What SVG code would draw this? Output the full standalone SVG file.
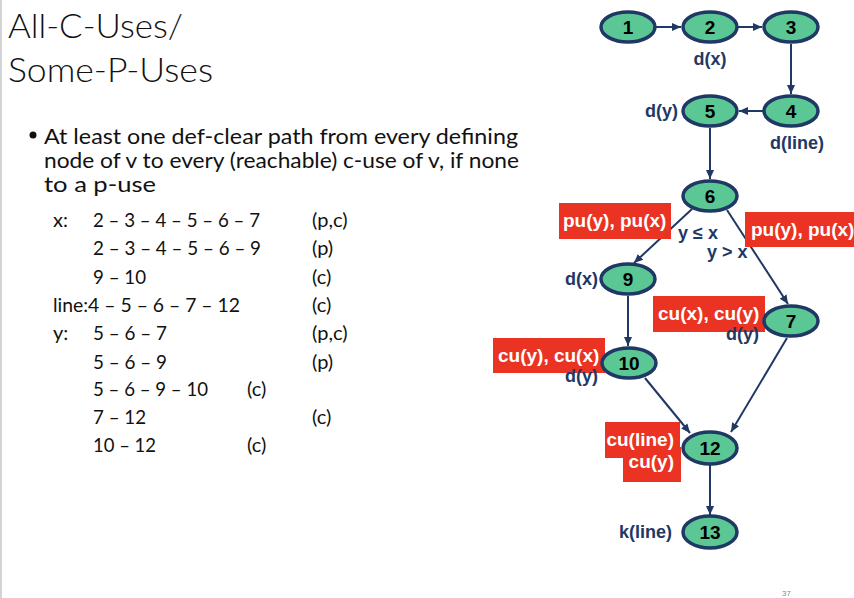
<svg xmlns="http://www.w3.org/2000/svg" width="854" height="598" viewBox="0 0 854 598">
  <style>
    .title { font-family: Lato, "Liberation Sans", Arial, sans-serif; font-weight: 300; font-size: 34px; fill: #111; }
    .body { font-family: Lato, "Liberation Sans", Arial, sans-serif; font-size: 21px; fill: #111; }
    .tbl { font-family: Lato, "Liberation Sans", Arial, sans-serif; font-size: 20px; fill: #111; }
    .node ellipse { fill: #5BC794; stroke: #1F3864; stroke-width: 3.5; }
    .node text { font-family: "Liberation Sans", Arial, sans-serif; font-weight: bold; font-size: 19px; fill: #000; text-anchor: middle; }
    .lbl { font-family: "Liberation Sans", Arial, sans-serif; font-weight: bold; font-size: 18px; fill: #1F3864; }
    .tag rect { fill: #EA3323; }
    .tag text { font-family: "Liberation Sans", Arial, sans-serif; font-weight: bold; font-size: 19px; fill: #fff; }
    .edge { stroke: #1F3864; stroke-width: 2; fill: none; marker-end: url(#arrow); }
  </style>
  <defs>
    <marker id="arrow" markerUnits="userSpaceOnUse" markerWidth="10" markerHeight="10" refX="9" refY="5" orient="auto">
      <path d="M0,1 L9,5 L0,9 Z" fill="#1F3864"/>
    </marker>
  </defs>

  <rect width="854" height="598" fill="#fff"/>
  <line x1="1" y1="0" x2="1" y2="598" stroke="#d4d4d4" stroke-width="2"/>

  <!-- Title -->
  <text class="title" x="8" y="38" textLength="175" lengthAdjust="spacingAndGlyphs">All-C-Uses/</text>
  <text class="title" x="8" y="82" textLength="205" lengthAdjust="spacingAndGlyphs">Some-P-Uses</text>

  <!-- Bullet text -->
  <circle cx="33" cy="135" r="3.5" fill="#111"/>
  <text class="body" x="44" y="144" textLength="474" lengthAdjust="spacingAndGlyphs">At least one def-clear path from every defining</text>
  <text class="body" x="44" y="168" textLength="475" lengthAdjust="spacingAndGlyphs">node of v to every (reachable) c-use of v, if none</text>
  <text class="body" x="44" y="192" textLength="112" lengthAdjust="spacingAndGlyphs">to a p-use</text>

  <!-- Def-use path table -->
  <g class="tbl">
    <text x="53" y="227">x:</text>
    <text x="93" y="227" textLength="167" lengthAdjust="spacingAndGlyphs">2 – 3 – 4 – 5 – 6 – 7</text>
    <text x="312" y="227">(p,c)</text>
    <text x="93" y="255" textLength="168" lengthAdjust="spacingAndGlyphs">2 – 3 – 4 – 5 – 6 – 9</text>
    <text x="312" y="255">(p)</text>
    <text x="93" y="284" textLength="53" lengthAdjust="spacingAndGlyphs">9 – 10</text>
    <text x="312" y="284">(c)</text>
    <text x="53" y="312" textLength="187" lengthAdjust="spacingAndGlyphs">line:4 – 5 – 6 – 7 – 12</text>
    <text x="312" y="312">(c)</text>
    <text x="53" y="340">y:</text>
    <text x="93" y="340" textLength="74" lengthAdjust="spacingAndGlyphs">5 – 6 – 7</text>
    <text x="312" y="340">(p,c)</text>
    <text x="93" y="369" textLength="74" lengthAdjust="spacingAndGlyphs">5 – 6 – 9</text>
    <text x="312" y="369">(p)</text>
    <text x="93" y="396" textLength="115" lengthAdjust="spacingAndGlyphs">5 – 6 – 9 – 10</text>
    <text x="247" y="396">(c)</text>
    <text x="93" y="424" textLength="53" lengthAdjust="spacingAndGlyphs">7 – 12</text>
    <text x="312" y="424">(c)</text>
    <text x="93" y="452" textLength="63" lengthAdjust="spacingAndGlyphs">10 – 12</text>
    <text x="247" y="452">(c)</text>
  </g>

  <!-- Connectors -->
  <g id="edges">
    <line class="edge" x1="656" y1="27" x2="681" y2="27"/>
    <line class="edge" x1="738" y1="27" x2="762" y2="27"/>
    <line class="edge" x1="791" y1="44" x2="791" y2="94"/>
    <line class="edge" x1="763" y1="111" x2="739" y2="111"/>
    <line class="edge" x1="710" y1="128" x2="710" y2="179"/>
    <line class="edge" x1="692" y1="209" x2="634" y2="263"/>
    <line class="edge" x1="727" y1="210" x2="788" y2="304"/>
    <line class="edge" x1="628" y1="296" x2="628" y2="346"/>
    <line class="edge" x1="645" y1="378" x2="690" y2="433"/>
    <line class="edge" x1="787" y1="338" x2="731" y2="432"/>
    <line class="edge" x1="710" y1="465" x2="710" y2="515"/>
  </g>

  <!-- Red use annotations -->
  <g class="tag" id="tag-6-left">
    <rect x="559" y="203" width="112" height="36"/>
    <text x="563" y="227">pu(y), pu(x)</text>
  </g>
  <g class="tag" id="tag-6-right">
    <rect x="745" y="212" width="109" height="35"/>
    <text x="751" y="236">pu(y), pu(x)</text>
  </g>
  <g class="tag" id="tag-7">
    <rect x="653" y="296" width="112" height="36"/>
    <text x="658" y="320">cu(x), cu(y)</text>
  </g>
  <g class="tag" id="tag-10">
    <rect x="493" y="338" width="112" height="35"/>
    <text x="498" y="362">cu(y), cu(x)</text>
  </g>
  <g class="tag" id="tag-12">
    <rect x="605" y="422" width="75" height="36"/>
    <rect x="623" y="447" width="58" height="35"/>
    <text x="674" y="446" text-anchor="end">cu(line)</text>
    <text x="674" y="468" text-anchor="end">cu(y)</text>
  </g>

  <!-- Edge and definition labels -->
  <text class="lbl" x="710" y="65" text-anchor="middle">d(x)</text>
  <text class="lbl" x="678" y="117" text-anchor="end">d(y)</text>
  <text class="lbl" x="797" y="149" text-anchor="middle">d(line)</text>
  <text class="lbl" x="678" y="239">y ≤ x</text>
  <text class="lbl" x="707" y="258">y &gt; x</text>
  <text class="lbl" x="598" y="285" text-anchor="end">d(x)</text>
  <text class="lbl" x="759" y="340" text-anchor="end">d(y)</text>
  <text class="lbl" x="598" y="382" text-anchor="end">d(y)</text>
  <text class="lbl" x="672" y="538" text-anchor="end">k(line)</text>

  <!-- Nodes -->
  <g class="node" id="n1"><ellipse cx="628" cy="27" rx="27" ry="15"/><text x="628" y="34">1</text></g>
  <g class="node" id="n2"><ellipse cx="710" cy="27" rx="27" ry="15"/><text x="710" y="34">2</text></g>
  <g class="node" id="n3"><ellipse cx="791" cy="27" rx="27" ry="15"/><text x="791" y="34">3</text></g>
  <g class="node" id="n4"><ellipse cx="791" cy="111" rx="27" ry="15"/><text x="791" y="118">4</text></g>
  <g class="node" id="n5"><ellipse cx="710" cy="111" rx="27" ry="15"/><text x="710" y="118">5</text></g>
  <g class="node" id="n6"><ellipse cx="710" cy="196" rx="27" ry="15"/><text x="710" y="203">6</text></g>
  <g class="node" id="n9"><ellipse cx="628" cy="279" rx="27" ry="15"/><text x="628" y="286">9</text></g>
  <g class="node" id="n7"><ellipse cx="791" cy="321" rx="27" ry="15"/><text x="791" y="328">7</text></g>
  <g class="node" id="n10"><ellipse cx="629" cy="363" rx="27" ry="15"/><text x="629" y="370">10</text></g>
  <g class="node" id="n12"><ellipse cx="710" cy="448" rx="27" ry="16"/><text x="710" y="455">12</text></g>
  <g class="node" id="n13"><ellipse cx="710" cy="532" rx="27" ry="16"/><text x="710" y="539">13</text></g>

  <!-- Page number -->
  <text x="782" y="596" font-family="Liberation Sans, Arial, sans-serif" font-size="8" fill="#8a8a8a">37</text>
</svg>
